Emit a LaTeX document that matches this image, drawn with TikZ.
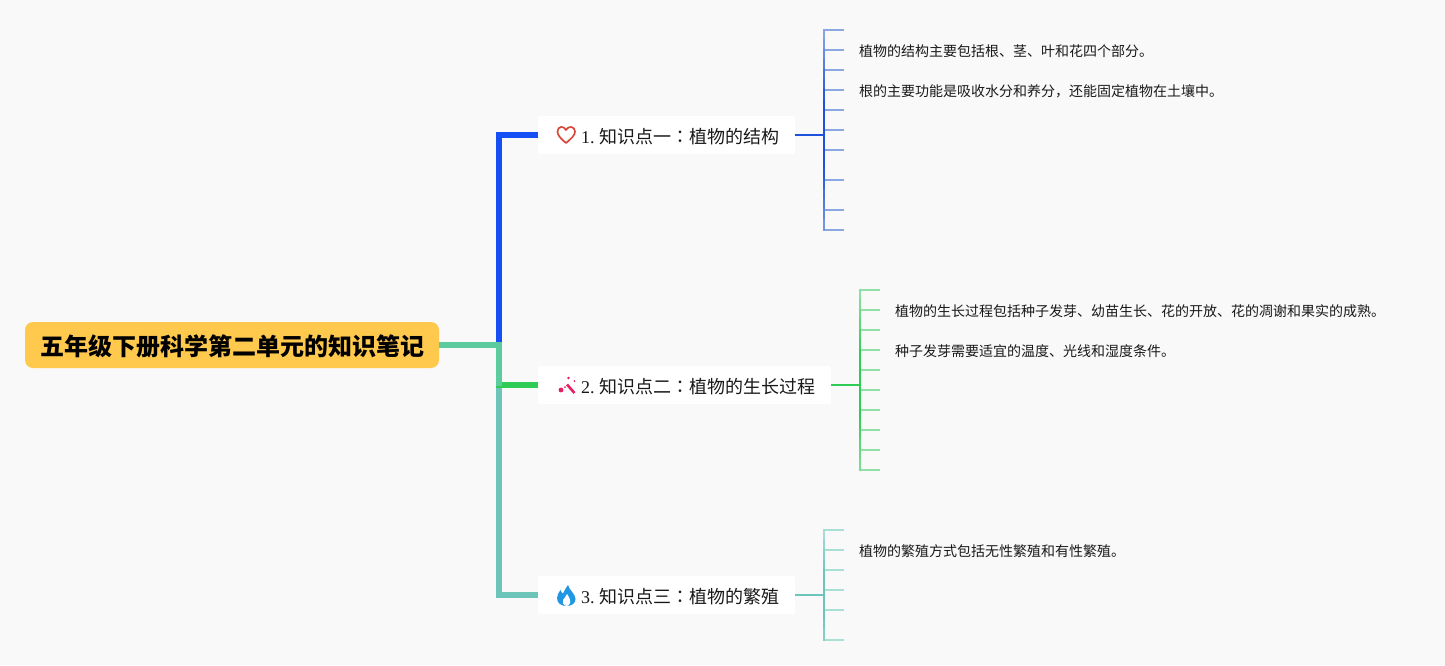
\documentclass[tikz,border=0pt]{standalone}
\usepackage{fontspec}
\setmainfont{Liberation Serif}
\newfontfamily\cjk{Noto Sans CJK SC}
\newfontfamily\cjktc{Noto Sans CJK TC}
\definecolor{pagebg}{HTML}{F9F9F9}
\definecolor{rootfill}{HTML}{FFC94D}
\definecolor{blueline}{HTML}{1650F5}
\definecolor{greenline}{HTML}{2ECC55}
\definecolor{tealline}{HTML}{6CC5B8}
\definecolor{rootline}{HTML}{5CCB9E}
\definecolor{blueside}{HTML}{1F52DC}
\definecolor{bluetick}{HTML}{8CA8E2}
\definecolor{greentick}{HTML}{93E0A6}
\definecolor{tealtick}{HTML}{AADFD6}
\definecolor{wandpink}{HTML}{E91E63}
\tikzset{
  root/.style={fill=rootfill,rounded corners=8pt,minimum width=414pt,minimum height=46pt,inner sep=0pt},
  topic/.style={fill=white,rounded corners=2pt,minimum height=38pt,inner sep=0pt},
  topictext/.style={anchor=west,inner sep=0pt,text=black!90,font=\fontsize{18}{18}\selectfont},
  leaf/.style={anchor=west,inner sep=0pt,text=black!90,font=\fontsize{14}{14}\cjk},
  trunk/.style={line width=6pt},
  branch/.style={line width=2pt},
  tick/.style={line width=2pt},
}
\begin{document}
\begin{tikzpicture}[x=1pt,y=-1pt]
    \fill[pagebg] (0,0) rectangle (1445,665);
    \useasboundingbox (0,0) rectangle (1445,665);
    \node[root] (r) at (232,345) {};
    \node[inner sep=0pt,font=\fontsize{24}{24}\cjk\bfseries] (rt) at (232.5,346.5) {五年级下册科学第二单元的知识笔记};
    \node[topic,minimum width=257pt] (a) at (666.5,135) {};
    \node[topic,minimum width=293pt] (b) at (684.5,385) {};
    \node[topic,minimum width=257pt] (c) at (666.5,595) {};
    \coordinate (j) at (499,345);
    \node[topictext] (at) at (581,136.5) {1.\hspace{4.5pt}{\cjk 知识点一}{\cjktc ：}{\cjk 植物的结构}};
    \node[topictext] (bt) at (581,386.5) {2.\hspace{4.5pt}{\cjk 知识点二}{\cjktc ：}{\cjk 植物的生长过程}};
    \node[topictext] (ct) at (581,596.5) {3.\hspace{4.5pt}{\cjk 知识点三}{\cjktc ：}{\cjk 植物的繁殖}};
    % trunks
    \draw[trunk,blueline] (j) |- (a.west);
    \draw[trunk,tealline] (j) |- (c.west);
    \draw[trunk,greenline] (j) |- (b.west);
    \draw[trunk,rootline] (r.east) -- (j) -- ++(0,41);
    % first group
    \foreach \y in {30,50,70,90,110,130,150,180,210,230}
        \draw[tick,bluetick] (844,\y) coordinate (t) -- (824,\y);
    \foreach \y in {29,39,...,219} {
        \pgfmathtruncatemacro\m{min(100,max(0,150*(1-abs(\y+5-135)/105)))}
        \draw[tick,blueside!\m!bluetick] (824,\y) -- (824,\y+12);
    }
    \coordinate (aj) at (824,135);
    \draw[branch,blueside] (a.east) -- (aj);
    % second group
    \foreach \y in {290,310,330,350,370,390,410,430,450,470}
        \draw[tick,greentick] (880,\y) coordinate (t) -- (860,\y);
    \foreach \y in {289,299,...,459} {
        \pgfmathtruncatemacro\m{min(100,max(0,150*(1-abs(\y+5-385)/95)))}
        \draw[tick,greenline!\m!greentick] (860,\y) -- (860,\y+12);
    }
    \coordinate (bj) at (860,385);
    \draw[branch,greenline] (b.east) -- (bj);
    % third group
    \foreach \y in {530,550,570,590,610,640}
        \draw[tick,tealtick] (844,\y) coordinate (t) -- (824,\y);
    \foreach \y in {529,539,...,629} {
        \pgfmathtruncatemacro\m{min(100,max(0,150*(1-abs(\y+5-595)/65)))}
        \draw[tick,tealline!\m!tealtick] (824,\y) -- (824,\y+12);
    }
    \coordinate (cj) at (824,595);
    \draw[branch,tealline] (c.east) -- (cj);
    % leaves
    \node[leaf] (a1) at (859,51.5) {植物的结构主要包括根、茎、叶和花四个部分。};
    \node[leaf] (a2) at (859,91.5) {根的主要功能是吸收水分和养分，还能固定植物在土壤中。};
    \node[leaf] (b1) at (895,311.5) {植物的生长过程包括种子发芽、幼苗生长、花的开放、花的凋谢和果实的成熟。};
    \node[leaf] (b2) at (895,351.5) {种子发芽需要适宜的温度、光线和湿度条件。};
    \node[leaf] (c1) at (859,551.5) {植物的繁殖方式包括无性繁殖和有性繁殖。};
    % icons
    \draw[line width=1.7pt,color={rgb,255:red,217;green,72;blue,58},line join=round]
        (566,143) .. controls (560,138) and (557.5,135) .. (557.5,131.5)
        .. controls (557.5,126) and (564,125.5) .. (566,130)
        .. controls (568,125.5) and (575,126) .. (575,131.5)
        .. controls (575,135) and (572,138) .. (566,143) -- cycle;
    \draw[line width=2.6pt,wandpink] (567,384.5) -- (574.5,393);
    \fill[wandpink] (561,390) circle (2.4pt) (568.5,378) circle (1.3pt) (574.5,381) circle (1pt) (565,387) circle (1pt);
    \fill[color={rgb,255:red,33;green,150;blue,226}]
        (568,585) .. controls (569,590) and (575.5,594) .. (575.5,599)
        .. controls (575.5,603) and (572,606) .. (566.5,606)
        .. controls (561,606) and (557,603) .. (557,598)
        .. controls (557,595) and (559,592) .. (560.5,590)
        .. controls (561,592) and (562,593) .. (563,593.5)
        .. controls (564,591) and (566,588) .. (568,585) -- cycle;
    \fill[white] (566.5,606) .. controls (563,605) and (562,602) .. (563,600)
        .. controls (564,598) and (566,597) .. (567,594)
        .. controls (569,597) and (571,600) .. (570,603)
        .. controls (569.5,605) and (568,606) .. (566.5,606) -- cycle;
\end{tikzpicture}
\end{document}
